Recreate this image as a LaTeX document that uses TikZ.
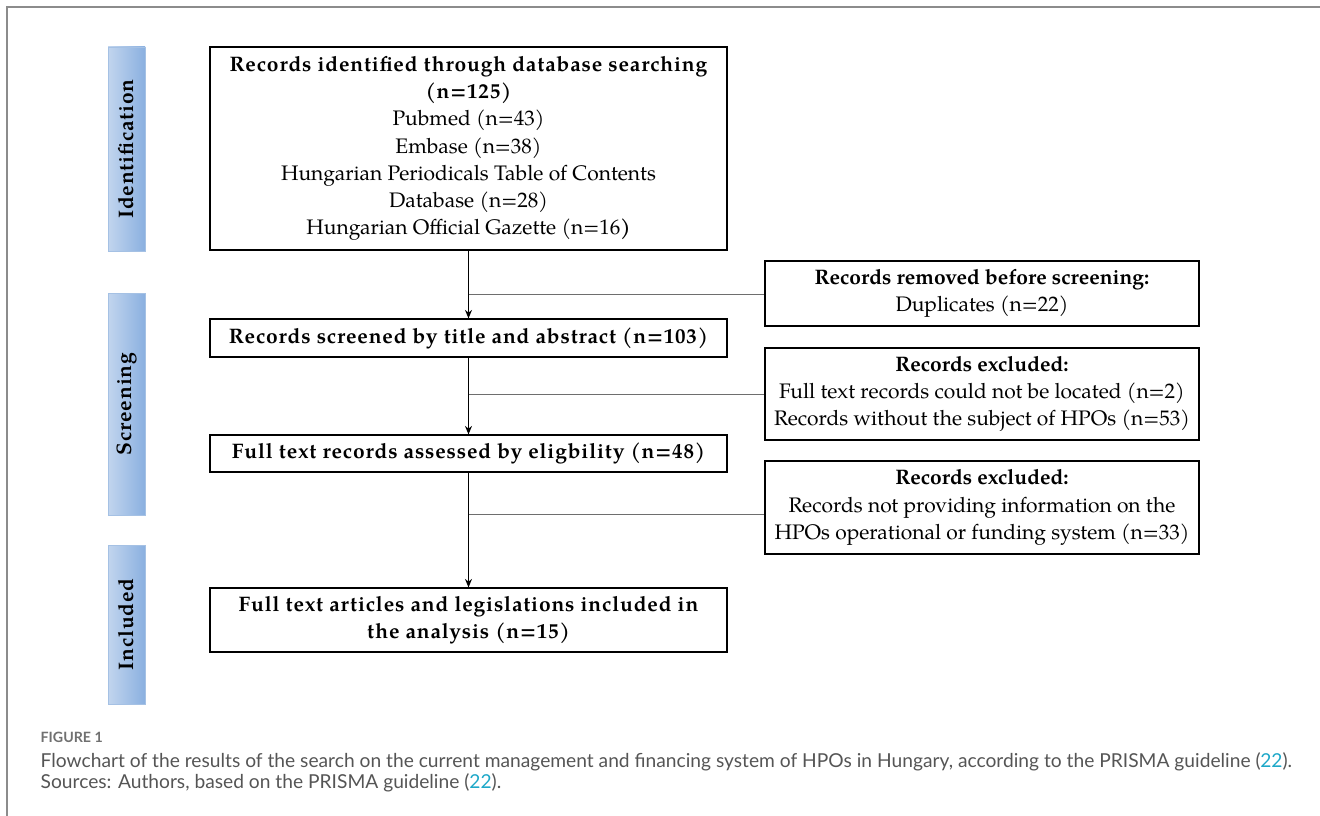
\documentclass[tikz,border=0pt]{standalone}
\usepackage{fontspec}
\setmainfont{TeX Gyre Pagella}
\newfontfamily\capfont{Lato}
\usetikzlibrary{arrows.meta}
\definecolor{sideL}{RGB}{194,213,238}
\definecolor{sideR}{RGB}{138,176,224}
\definecolor{sidebd}{RGB}{165,193,228}
\definecolor{branchgray}{RGB}{110,110,110}
\definecolor{capgray}{RGB}{85,85,85}
\definecolor{figgray}{RGB}{112,112,112}
\definecolor{refcyan}{RGB}{30,168,200}
\definecolor{framegray}{RGB}{140,140,140}
\newcommand{\boxfont}{\fontsize{21}{27.3}\selectfont}
\newcommand{\lb}[1]{{\bfseries\addfontfeature{LetterSpace=4}#1}}
\begin{document}
\begin{tikzpicture}[x=1pt,y=-1pt,
  box/.style={draw=black,line width=1.2pt,fill=white,align=center,inner sep=0pt,font=\boxfont},
  leftbox/.style={box,minimum width=517pt},
  rightbox/.style={box,minimum width=434pt},
  sidebar/.style={draw=sidebd,line width=0.6pt,left color=sideL,right color=sideR,inner sep=0pt,minimum width=37pt,font=\boxfont},
  flow/.style={line width=1pt,-{Stealth[length=8.5pt,width=7pt]}},
  branch/.style={line width=0.9pt,draw=branchgray},
  captext/.style={anchor=base west,inner sep=0pt,font=\capfont\fontsize{19.2}{21}\selectfont,text=capgray}]
\useasboundingbox (0,0) rectangle (1320,816);
\draw[framegray,line width=1.5pt] (7,816) -- (7,7) -- (1320,7);
% side bars
\node[sidebar,minimum height=204pt] (sidI) at (126.5,149) {\rotatebox{90}{\lb{Identification}}};
\node[sidebar,minimum height=222pt] (sidS) at (126.5,404) {\rotatebox{90}{\lb{Screening}}};
\node[sidebar,minimum height=159pt] (sidN) at (126.5,624.5) {\rotatebox{90}{\lb{Included}}};
% main boxes
\node[leftbox,minimum height=203pt] (ident) at (468.5,148.5) {\lb{Records identified through database searching}\\\lb{(n=125)}\\Pubmed (n=43)\\Embase (n=38)\\Hungarian Periodicals Table of Contents\\Database (n=28)\\Hungarian Official Gazette (n=16\textbf{)}};
\node[leftbox,minimum height=38pt] (scr) at (468.5,338) {\lb{Records screened by title and abstract (n=103)}};
\node[leftbox,minimum height=37pt] (full) at (468.5,453.5) {\lb{Full text records assessed by eligbility (n=48)}};
\node[leftbox,minimum height=64pt] (incl) at (468.5,620) {\lb{Full text articles and legislations included in}\\\lb{the analysis (n=15)}};
% right boxes
\node[rightbox,minimum height=65pt] (rem) at (982,293.5) {\textbf{Records removed before screening:}\\Duplicates (n=22)};
\node[rightbox,minimum height=92pt] (exA) at (982,394) {\textbf{Records excluded:}\\Full text records could not be located (n=2)\\Records without the subject of HPOs (n=53)};
\node[rightbox,minimum height=93pt] (exB) at (982,507.5) {\textbf{Records excluded:}\\Records not providing information on the\\HPOs operational or funding system (n=33)};
% connectors
\draw[flow] (ident.south) -- (scr.north);
\draw[flow] (scr.south) -- (full.north);
\draw[flow] (full.south) -- (incl.north);
\coordinate (b1) at (468.5,294);
\coordinate (b2) at (468.5,394);
\coordinate (b3) at (468.5,514);
\draw[branch] (b1) -- (b1 -| rem.west);
\draw[branch] (b2) -- (b2 -| exA.west);
\draw[branch] (b3) -- (b3 -| exB.west);
% caption
\node[anchor=base west,inner sep=0pt,font=\capfont\bfseries\fontsize{14.2}{16}\selectfont,text=figgray] (figlbl) at (40.5,742) {FIGURE 1};
\node[captext] (cap1) at (40.5,767) {Flowchart of the results of the search on the current management and financing system of HPOs in Hungary, according to the PRISMA guideline (\textcolor{refcyan}{22}).};
\node[captext] (cap2) at (40.5,788) {Sources: Authors, based on the PRISMA guideline (\textcolor{refcyan}{22}).};
\end{tikzpicture}
\end{document}
